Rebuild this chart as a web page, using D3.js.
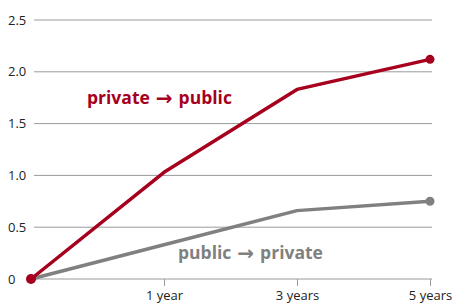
<!DOCTYPE html>
<html>
<head>
<meta charset="utf-8">
<script src="https://cdn.jsdelivr.net/npm/d3@7"></script>
<style>
  body { margin: 0; background: #fff; }
  text { font-family: "Open Sans", "Noto Sans", sans-serif; }
</style>
</head>
<body>
<svg id="chart"></svg>
<script>
let width = 452;
let height = 304;

let periods = ['0', '1 year', '3 years', '5 years'];
let periodLabels = ['', '1 year', '3 years', '5 years'];
let privateToPublic = [0, 1.03, 1.83, 2.12];
let publicToPrivate = [0, 0.33, 0.66, 0.75];
let yTicks = [0, 0.5, 1.0, 1.5, 2.0, 2.5];
let yTickLabels = ['0', '0.5', '1.0', '1.5', '2.0', '2.5'];

let red = '#a6001e';
let grey = '#808080';

let svg = d3.select('#chart')
    .attr('width', width)
    .attr('height', height);

let x = d3.scalePoint()
    .domain(periods)
    .range([31, 430]);

let y = d3.scaleLinear()
    .domain([0, 2.5])
    .range([279, 20]);

// gridlines
svg.append('g')
    .selectAll('line')
    .data(yTicks)
    .join('line')
    .attr('x1', 34)
    .attr('x2', 432)
    .attr('y1', d => y(d))
    .attr('y2', d => y(d))
    .attr('stroke', '#9a9a9a')
    .attr('stroke-width', 1);

svg.append('g')
    .selectAll('text')
    .data(yTicks)
    .join('text')
    .attr('x', 8)
    .attr('y', d => y(d))
    .attr('dy', '0.35em')
    .attr('font-size', 13)
    .attr('fill', '#222')
    .text((d, i) => yTickLabels[i]);

// x axis
let xAxis = d3.axisBottom(x)
    .tickValues(periods.slice(1))
    .tickSize(7)
    .tickPadding(5)
    .tickFormat((d, i) => periodLabels[i + 1]);

let gx = svg.append('g')
    .attr('transform', `translate(0,${y(0)})`)
    .call(xAxis);
gx.select('.domain').remove();
gx.selectAll('.tick line').attr('stroke', '#9a9a9a');
gx.selectAll('.tick text')
    .attr('font-size', 13)
    .attr('fill', '#222')
    .style('font-family', '"Open Sans", "Noto Sans", sans-serif');

let line = d3.line()
    .x((d, i) => x(periods[i]))
    .y(d => y(d));

let series = [
    {values: publicToPrivate, color: grey},
    {values: privateToPublic, color: red}
];

series.forEach(s => {
    svg.append('path')
        .datum(s.values)
        .attr('fill', 'none')
        .attr('stroke', s.color)
        .attr('stroke-width', 3.5)
        .attr('stroke-linejoin', 'round')
        .attr('d', line);
    let last = s.values.length - 1;
    svg.append('circle')
        .attr('cx', x(periods[last]))
        .attr('cy', y(s.values[last]))
        .attr('r', 4.5)
        .attr('fill', s.color);
});

svg.append('circle')
    .attr('cx', x(periods[0]))
    .attr('cy', y(0))
    .attr('r', 5)
    .attr('fill', red);

let addLabel = (px, py, from, to, color) => {
    let t = svg.append('text')
        .attr('x', px)
        .attr('y', py)
        .attr('font-size', 17.5)
        .attr('font-weight', 'bold')
        .attr('fill', color);
    t.append('tspan').text(from);
    t.append('tspan')
        .attr('dx', 6)
        .attr('dy', 0.5)
        .style('font-family', '"DejaVu Sans", sans-serif')
        .style('font-size', '20px')
        .text('\u2192');
    t.append('tspan')
        .attr('dx', 6)
        .attr('dy', -0.5)
        .text(to);
};

addLabel(87, 104, 'private', 'public', red);
addLabel(178, 259, 'public', 'private', grey);
</script>
</body>
</html>
